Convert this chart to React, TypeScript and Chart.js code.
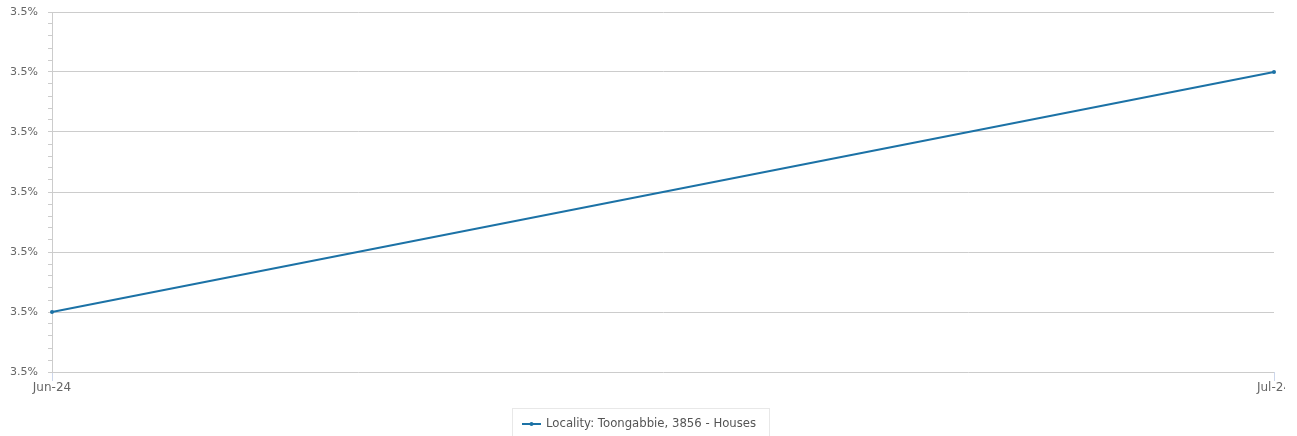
import React, { useEffect, useRef } from "react";
import { Chart, registerables } from "chart.js";

Chart.register(...registerables);

const categories = ["Jun-24", "Jul-24"];
const seriesName = "Locality: Toongabbie, 3856 - Houses";
const seriesValues = [3.505, 3.525];
const yMin = 3.5;
const yMax = 3.53;
const yMinorStep = 0.001;

const LINE_COLOR = "#1c72a6";
const FONT = "'DejaVu Sans', sans-serif";

const isMajor = (v: number) => Math.round(v * 1000) % 5 === 0;

const legendPlugin = {
  id: "customLegend",
  afterDraw(chart: any) {
    const ctx = chart.ctx as CanvasRenderingContext2D;
    ctx.save();
    // truncate the last x label at the canvas edge region like the original
    const xs = chart.scales.x;
    ctx.fillStyle = "#ffffff";
    ctx.fillRect(chart.chartArea.right + 11, xs.top + 5, chart.width - chart.chartArea.right, 22);

    ctx.font = `11.7px ${FONT}`;
    const tw = ctx.measureText(seriesName).width;
    const boxW = Math.round(tw + 47);
    const boxLeft = 512;
    const boxTop = 408;
    ctx.strokeStyle = "#e8e8e8";
    ctx.lineWidth = 1;
    ctx.strokeRect(boxLeft + 0.5, boxTop + 0.5, boxW, 40);
    const cy = 424;
    const sx = boxLeft + 10;
    ctx.strokeStyle = LINE_COLOR;
    ctx.lineWidth = 2;
    ctx.beginPath();
    ctx.moveTo(sx, cy);
    ctx.lineTo(sx + 19, cy);
    ctx.stroke();
    ctx.fillStyle = LINE_COLOR;
    ctx.beginPath();
    ctx.arc(sx + 9.5, cy, 2, 0, Math.PI * 2);
    ctx.fill();
    ctx.fillStyle = "#555555";
    ctx.textBaseline = "middle";
    ctx.textAlign = "left";
    ctx.fillText(seriesName, sx + 24, cy);
    ctx.restore();
  },
};

export default function App() {
  const ref = useRef<HTMLCanvasElement>(null);
  useEffect(() => {
    if (!ref.current) return;
    const chart = new Chart(ref.current, {
      type: "line",
      data: {
        labels: categories,
        datasets: [
          {
            label: seriesName,
            data: seriesValues,
            borderColor: LINE_COLOR,
            backgroundColor: LINE_COLOR,
            borderWidth: 2,
            pointRadius: 2,
            pointHoverRadius: 2,
            pointBackgroundColor: LINE_COLOR,
            pointBorderWidth: 0,
            tension: 0,
            fill: false,
          },
        ],
      },
      plugins: [legendPlugin],
      options: {
        responsive: false,
        animation: false,
        layout: { padding: { top: 12, right: 23, bottom: 40, left: 0 } },
        plugins: {
          legend: { display: false },
          tooltip: { enabled: false },
        },
        scales: {
          x: {
            type: "category",
            offset: false,
            grid: {
              drawOnChartArea: false,
              drawTicks: true,
              tickLength: 9,
              tickColor: "#ccd6eb",
              color: "#ccd6eb",
            },
            border: { display: false },
            ticks: {
              font: { family: FONT, size: 12 },
              color: "#666666",
              maxRotation: 0,
              autoSkip: false,
              padding: 0,
            },
            afterFit(scale: any) {
              scale.height = 24;
              scale.paddingLeft = 0;
              scale.paddingRight = 0;
            },
          },
          y: {
            type: "linear",
            min: yMin,
            max: yMax,
            grid: {
              color: (c: any) => (c.tick && isMajor(c.tick.value) ? "#cccccc" : "rgba(0,0,0,0)"),
              tickColor: "#cccccc",
              tickLength: 4,
              lineWidth: 1,
            },
            border: { display: true, color: "#cccccc" },
            ticks: {
              stepSize: yMinorStep,
              autoSkip: false,
              font: { family: FONT, size: 11 },
              color: "#666666",
              padding: 10,
              callback: (v: any) => (isMajor(Number(v)) ? Number(v).toFixed(1) + "%" : ""),
            },
            afterFit(scale: any) {
              scale.width = 52;
              scale.paddingTop = 0;
              scale.paddingBottom = 0;
            },
          },
        },
      },
    });
    return () => chart.destroy();
  }, []);
  return (
    <div style={{ position: "absolute", left: 0, top: 0, width: 1297, height: 436, overflow: "hidden" }}>
      <canvas ref={ref} width={1297} height={436} style={{ display: "block" }} />
    </div>
  );
}
